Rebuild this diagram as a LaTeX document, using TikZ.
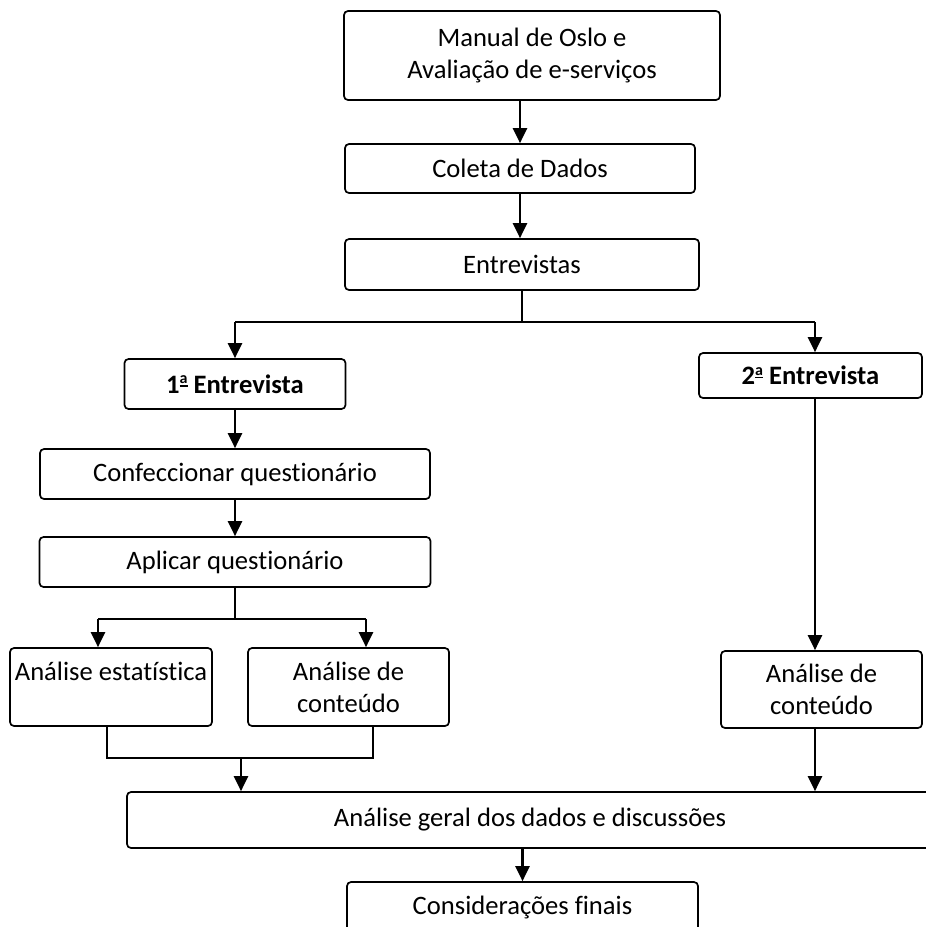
\documentclass[tikz,border=0pt]{standalone}
\usepackage{fontspec}
\setmainfont{Carlito}[RawFeature=-liga]
\usetikzlibrary{arrows.meta}

% underlined feminine ordinal indicator
\newcommand\ordfem{\raisebox{0.25em}{\setbox0\hbox{\fontsize{16}{16}\selectfont\bfseries a}%
  \vbox{\copy0\kern1.5pt\hrule height1.4pt width\wd0}}}

\tikzset{
  box/.style={draw=black, line width=1.7pt, rounded corners=4pt, fill=white,
    inner sep=0pt, align=center, text=black,
    font=\fontsize{26.6}{32}\selectfont},
  arr/.style={draw=black, line width=2.2pt,
    -{Triangle[width=14pt,length=15pt]}},
  link/.style={draw=black, line width=1.4pt}
}

\begin{document}
\begin{tikzpicture}[x=1pt, y=-1pt]
\useasboundingbox (0,0) rectangle (926,927);
\begin{scope}
\clip (0,0) rectangle (926,927);

% main column
\node[box, minimum width=376pt, minimum height=89pt] (b1) at (532,55.5)
  {Manual de Oslo e\\Avaliação de e-serviços};
\node[box, minimum width=350pt, minimum height=49pt] (b2) at (520,168.5)
  {Coleta de Dados};
\node[box, minimum width=354pt, minimum height=51pt] (b3) at (522,264.5)
  {Entrevistas};

% first interview branch
\node[box, minimum width=221pt, minimum height=50pt] (e1) at (235,384)
  {\bfseries 1\ordfem\ Entrevista};
\node[box, minimum width=390pt, minimum height=50pt] (cq) at (235,474)
  {Confeccionar questionário};
\node[box, minimum width=391pt, minimum height=50pt] (aq) at (235,562)
  {Aplicar questionário};
\node[box, minimum width=202pt, minimum height=78pt] (ae) at (111,687)
  {Análise estatística\\\mbox{}};
\node[box, minimum width=201pt, minimum height=78pt] (ac1) at (348.5,687)
  {Análise de\\conteúdo};

% second interview branch
\node[box, minimum width=223pt, minimum height=45pt] (e2) at (810.5,375.5)
  {\bfseries 2\ordfem\ Entrevista};
\node[box, minimum width=201pt, minimum height=77pt] (ac2) at (821.5,689.5)
  {Análise de\\conteúdo};

% closing steps
\node[box, minimum width=806pt, minimum height=56pt] (ag) at (530,820)
  {Análise geral dos dados e discussões};
\node[box, minimum width=351pt, minimum height=50pt] (cf) at (522.5,907)
  {Considerações finais};

% junction points
\coordinate (s1) at (522,322);
\coordinate (jL) at (235,322);
\coordinate (jR) at (815,322);
\coordinate (s2) at (235,619);
\coordinate (kL) at (98,619);
\coordinate (kR) at (366,619);
\coordinate (mL) at (107,758);
\coordinate (mR) at (373,758);
\coordinate (mC) at (241,758);

% connectors
\draw[arr] (b2.north |- b1.south) -- (b2.north);
\draw[arr] (b2.south) -- (b2.south |- b3.north);
\draw[link] (b3.south) -- (s1);
\draw[link] (jL) -- (jR);
\draw[arr] (jL) -- (e1.north);
\draw[arr] (jR) -- (jR |- e2.north);
\draw[arr] (e1.south) -- (cq.north);
\draw[arr] (cq.south) -- (aq.north);
\draw[link] (aq.south) -- (s2);
\draw[link] (kL) -- (kR);
\draw[arr] (kL) -- (kL |- ae.north);
\draw[arr] (kR) -- (kR |- ac1.north);
\draw[link] (mL |- ae.south) -- (mL) -- (mR) -- (mR |- ac1.south);
\draw[arr] (mC) -- (mC |- ag.north);
\draw[arr] (jR |- e2.south) -- (jR |- ac2.north);
\draw[arr] (jR |- ac2.south) -- (jR |- ag.north);
\draw[arr] (cf.north |- ag.south) -- (cf.north);
\end{scope}
\end{tikzpicture}
\end{document}
